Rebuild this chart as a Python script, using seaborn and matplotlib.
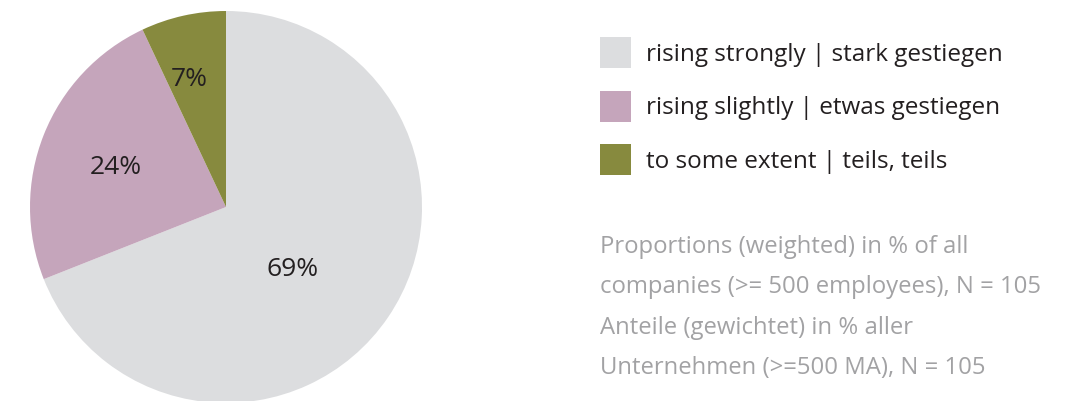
import numpy as np
import matplotlib
matplotlib.use('Agg')
import matplotlib.pyplot as plt
import seaborn as sns

# data
categories = ['rising strongly | stark gestiegen',
              'rising slightly | etwas gestiegen',
              'to some extent | teils, teils']
shares = [69, 24, 7]
colors = ['#dcdddf', '#c5a5bb', '#878a3e']
note_lines = ['Proportions (weighted) in % of all',
              'companies (>= 500 employees), N = 105',
              'Anteile (gewichtet) in % aller',
              'Unternehmen (>=500 MA), N = 105']

sns.set_theme(style='white')
plt.rcParams['font.family'] = ['Open Sans', 'DejaVu Sans']

W, H = 1087, 401
fig = plt.figure(figsize=(W / 100, H / 100), dpi=100)
fig.patch.set_facecolor('white')

# pie axes: centre (226, 207), radius 196 px
cx, cy, r = 226, 207, 196
ax = fig.add_axes([(cx - r) / W, (H - cy - r) / H, 2 * r / W, 2 * r / H])
wedges, _ = ax.pie(shares, colors=colors, startangle=90, counterclock=False,
                   radius=1, wedgeprops=dict(linewidth=0))
ax.set_xlim(-1, 1)
ax.set_ylim(-1, 1)
ax.set_aspect('equal')
ax.axis('off')

# label placement per wedge (radius fraction, angle shift in deg)
label_r = [0.46, 0.60, 0.69]
label_shift = [-8, 1, 3]
for w, v, lr, sh in zip(wedges, shares, label_r, label_shift):
    ang = np.deg2rad((w.theta1 + w.theta2) / 2 + sh)
    ax.text(lr * np.cos(ang), lr * np.sin(ang) - 0.012, f'{v}%', ha='center',
            va='center', fontsize=19, color='#231f20')

leg = fig.legend(wedges, categories, loc='upper left',
                 bbox_to_anchor=(600 / W, 1 - 37 / H), frameon=False,
                 fontsize=17.5, handlelength=1.28, handleheight=1.59,
                 handletextpad=0.62, labelspacing=0.93, borderpad=0,
                 borderaxespad=0)
for t in leg.get_texts():
    t.set_color('#231f20')

for i, line in enumerate(note_lines):
    fig.text(600 / W, 1 - (247 + 40.3 * i) / H, line, ha='left', va='center',
             fontsize=17.2, color='#a2a2a4')

fig.savefig('out.png', dpi=100, facecolor='white')
